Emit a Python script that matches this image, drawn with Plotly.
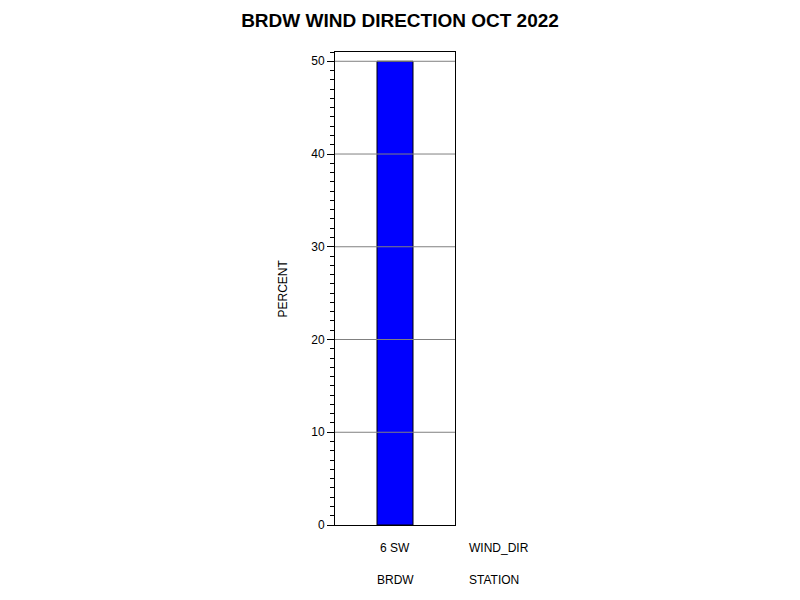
import plotly.graph_objects as go

wind_dir = ["6 SW"]
station = ["BRDW"]
percent = [50]
ytick_vals = [0, 10, 20, 30, 40, 50]
ytick_text = ["0", "10", "20", "30", "40", "50"]

FONT = "Liberation Sans, Arial, sans-serif"

fig = go.Figure()
fig.add_trace(go.Bar(
    x=wind_dir, y=percent, width=0.3,
    marker=dict(color="#0000FF", line=dict(color="black", width=1)),
    showlegend=False, hoverinfo="skip",
))

shapes = []
for v in ytick_vals[1:]:
    shapes.append(dict(type="line", xref="paper", yref="y", x0=0, x1=1, y0=v, y1=v,
                       line=dict(color="#808080", width=1), layer="above"))

annotations = []
for w, s in zip(wind_dir, station):
    annotations.append(dict(x=w, xref="x", y=0, yref="paper", text=w, showarrow=False,
                            yshift=-23, yanchor="middle", font=dict(size=12, color="black", family=FONT)))
    annotations.append(dict(x=w, xref="x", y=0, yref="paper", text=s, showarrow=False,
                            yshift=-55, yanchor="middle", font=dict(size=12, color="black", family=FONT)))
annotations.append(dict(x=1, xref="paper", y=0, yref="paper", text="WIND_DIR", showarrow=False,
                        xanchor="left", xshift=12, yshift=-23, yanchor="middle",
                        font=dict(size=12, color="black", family=FONT)))
annotations.append(dict(x=1, xref="paper", y=0, yref="paper", text="STATION", showarrow=False,
                        xanchor="left", xshift=12, yshift=-55, yanchor="middle",
                        font=dict(size=12, color="black", family=FONT)))
annotations.append(dict(x=0, xref="paper", y=0.5, yref="paper", text="PERCENT", showarrow=False,
                        textangle=-90, xshift=-53, xanchor="center", yanchor="middle",
                        font=dict(size=12, color="black", family=FONT)))

fig.update_layout(
    width=800, height=600,
    margin=dict(l=327, r=353, t=44, b=83),
    paper_bgcolor="white", plot_bgcolor="white",
    font=dict(family=FONT, size=12, color="black"),
    title=dict(text="<b>BRDW WIND DIRECTION OCT 2022</b>", x=392 / 800, xanchor="center",
               y=1 - 12 / 600, yanchor="middle", yref="container",
               font=dict(size=19, color="black", family=FONT)),
    xaxis=dict(range=[-0.5, 0.5], showticklabels=False, ticks="", showgrid=False,
               showline=True, linecolor="black", linewidth=1, mirror=True, zeroline=False),
    yaxis=dict(range=[0, 51], tickvals=ytick_vals, ticktext=ytick_text, ticks="outside",
               ticklen=7, tickwidth=1, tickcolor="black", showgrid=False,
               showline=True, linecolor="black", linewidth=1, mirror=True, zeroline=False,
               minor=dict(dtick=1, ticks="outside", ticklen=4, tickcolor="black", showgrid=False),
               tickfont=dict(size=12, color="black", family=FONT)),
    shapes=shapes, annotations=annotations,
)

fig.write_html("out.html")
